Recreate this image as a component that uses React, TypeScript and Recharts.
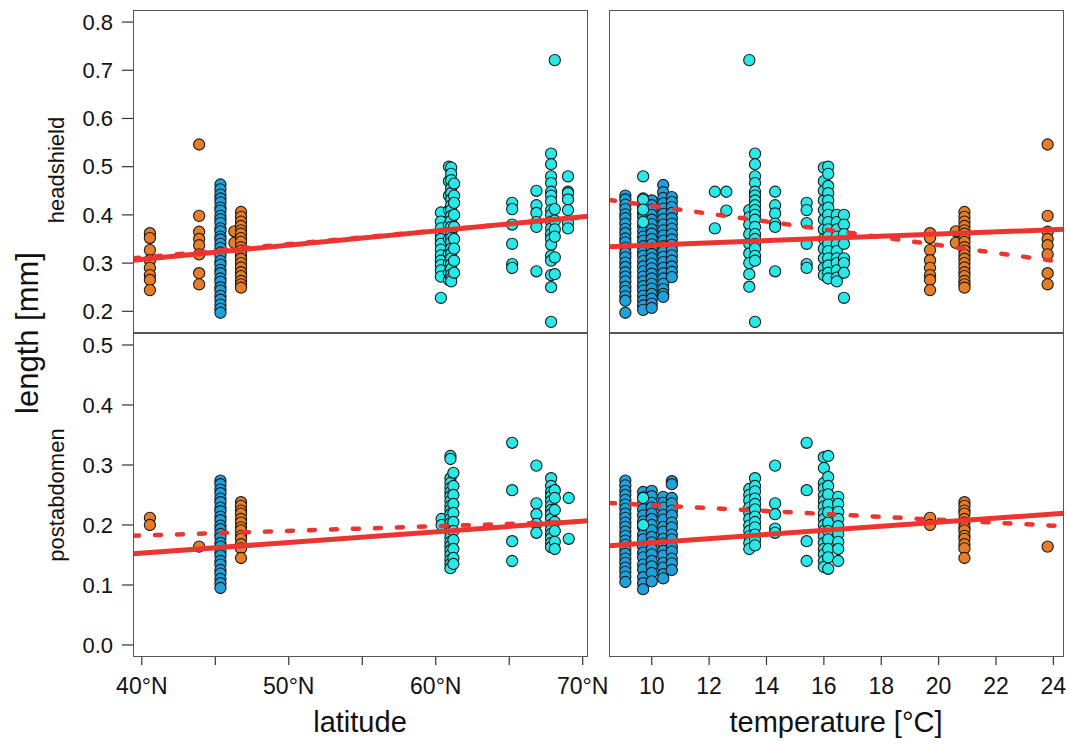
import { ScatterChart, Scatter, XAxis, YAxis } from "recharts";

const W = 1071;
const H = 747;
const FONT = "'Liberation Sans', Arial, Helvetica, sans-serif";

const ORANGE = "#e87d28";
const BLUE = "#1ea2dd";
const CYAN = "#2ae8e8";
const RED = "#ec3431";

type Column = [number, number[]];

// axis ticks
const latTicks = [40, 45, 50, 55, 60, 65, 70];
const tempTicks = [10, 12, 14, 16, 18, 20, 22, 24];
const headTicks = [0.2, 0.3, 0.4, 0.5, 0.6, 0.7, 0.8];
const postTicks = [0, 0.1, 0.2, 0.3, 0.4, 0.5];

// headshield vs latitude
const latHeadOrange: Column[] = [
  [40.55, [0.362, 0.352, 0.327, 0.306, 0.29, 0.275, 0.265, 0.244]],
  [43.9, [0.546, 0.398, 0.365, 0.35, 0.337, 0.318, 0.279, 0.256]],
  [46.3, [0.366, 0.342]],
  [46.75, [0.406, 0.396, 0.386, 0.377, 0.368, 0.361, 0.352, 0.344, 0.333, 0.326, 0.317, 0.309, 0.3, 0.291, 0.281, 0.273, 0.263, 0.256, 0.249]],
];
const latHeadBlue: Column[] = [
  [45.35, [0.463, 0.453, 0.442, 0.434, 0.426, 0.415, 0.409, 0.398, 0.391, 0.383, 0.372, 0.366, 0.355, 0.349, 0.34, 0.331, 0.322, 0.315, 0.304, 0.297, 0.286, 0.279, 0.268, 0.261, 0.25, 0.243, 0.232, 0.224, 0.214, 0.205, 0.197]],
];
const latHeadCyan: Column[] = [
  [60.35, [0.405, 0.386, 0.372, 0.36, 0.35, 0.34, 0.328, 0.316, 0.305, 0.296, 0.285, 0.272, 0.228]],
  [60.9, [0.5, 0.47, 0.44, 0.41, 0.38, 0.35, 0.32, 0.3, 0.28, 0.265]],
  [61.05, [0.498, 0.485, 0.472, 0.455, 0.445, 0.432, 0.42, 0.41, 0.398, 0.388, 0.375, 0.364, 0.352, 0.343, 0.33, 0.32, 0.31, 0.298, 0.288, 0.276, 0.268, 0.262]],
  [61.25, [0.465, 0.44, 0.425, 0.4, 0.375, 0.35, 0.33, 0.305, 0.28]],
  [65.2, [0.425, 0.412, 0.38, 0.34, 0.298, 0.29]],
  [66.85, [0.45, 0.42, 0.404, 0.385, 0.375, 0.283]],
  [67.85, [0.527, 0.505, 0.48, 0.466, 0.448, 0.44, 0.428, 0.41, 0.4, 0.386, 0.372, 0.36, 0.35, 0.338, 0.315, 0.305, 0.275, 0.25, 0.178]],
  [68.1, [0.721, 0.412, 0.388, 0.37, 0.355, 0.312, 0.277]],
  [69.0, [0.48, 0.448, 0.445, 0.432, 0.41, 0.384, 0.372]],
];

// headshield vs temperature
const tempHeadBlue: Column[] = [
  [9.08, [0.44, 0.432, 0.421, 0.412, 0.401, 0.393, 0.382, 0.371, 0.362, 0.351, 0.343, 0.332, 0.321, 0.312, 0.301, 0.292, 0.281, 0.272, 0.262, 0.251, 0.242, 0.231, 0.222, 0.197]],
  [9.7, [0.434, 0.425, 0.415, 0.404, 0.396, 0.377, 0.366, 0.355, 0.346, 0.335, 0.324, 0.315, 0.304, 0.293, 0.283, 0.272, 0.262, 0.252, 0.243, 0.232, 0.222, 0.212, 0.203]],
  [10.0, [0.43, 0.42, 0.411, 0.4, 0.39, 0.381, 0.37, 0.361, 0.35, 0.339, 0.33, 0.319, 0.31, 0.299, 0.289, 0.278, 0.268, 0.257, 0.247, 0.236, 0.226, 0.216, 0.207]],
  [10.4, [0.462, 0.447, 0.435, 0.424, 0.413, 0.402, 0.391, 0.38, 0.368, 0.357, 0.346, 0.335, 0.324, 0.313, 0.302, 0.29, 0.279, 0.268, 0.257, 0.246, 0.236, 0.23]],
  [10.7, [0.437, 0.427, 0.416, 0.404, 0.393, 0.382, 0.371, 0.36, 0.349, 0.338, 0.327, 0.316, 0.305, 0.293, 0.282, 0.271]],
];
const tempHeadCyan: Column[] = [
  [9.7, [0.48, 0.432, 0.411, 0.385]],
  [12.2, [0.448, 0.372]],
  [12.6, [0.448, 0.409]],
  [13.4, [0.721, 0.41, 0.395, 0.38, 0.36, 0.34, 0.32, 0.3, 0.277, 0.251]],
  [13.6, [0.527, 0.505, 0.48, 0.466, 0.448, 0.44, 0.43, 0.42, 0.41, 0.4, 0.39, 0.375, 0.36, 0.35, 0.34, 0.33, 0.315, 0.305, 0.178]],
  [14.3, [0.448, 0.42, 0.403, 0.382, 0.375, 0.283]],
  [15.4, [0.425, 0.41, 0.383, 0.34, 0.298, 0.29]],
  [16.0, [0.498, 0.47, 0.45, 0.43, 0.41, 0.39, 0.37, 0.35, 0.33, 0.31, 0.29, 0.275]],
  [16.15, [0.5, 0.485, 0.46, 0.445, 0.43, 0.415, 0.4, 0.385, 0.37, 0.355, 0.34, 0.325, 0.31, 0.295, 0.28, 0.268]],
  [16.45, [0.4, 0.385, 0.37, 0.355, 0.34, 0.325, 0.31, 0.3, 0.285, 0.27, 0.262]],
  [16.7, [0.4, 0.38, 0.36, 0.34, 0.31, 0.3, 0.28, 0.228]],
];
const tempHeadOrange: Column[] = [
  [19.7, [0.362, 0.352, 0.327, 0.306, 0.29, 0.275, 0.265, 0.244]],
  [20.6, [0.366, 0.342]],
  [20.9, [0.406, 0.396, 0.386, 0.377, 0.368, 0.361, 0.352, 0.344, 0.333, 0.326, 0.317, 0.309, 0.3, 0.291, 0.281, 0.273, 0.263, 0.256, 0.249]],
  [23.8, [0.546, 0.398, 0.365, 0.35, 0.337, 0.318, 0.279, 0.256]],
];

// postabdomen vs latitude
const latPostOrange: Column[] = [
  [40.55, [0.212, 0.2]],
  [43.9, [0.164]],
  [46.75, [0.238, 0.232, 0.224, 0.219, 0.21, 0.204, 0.196, 0.191, 0.182, 0.177, 0.168, 0.161, 0.145]],
];
const latPostBlue: Column[] = [
  [45.35, [0.274, 0.268, 0.259, 0.253, 0.244, 0.238, 0.229, 0.223, 0.214, 0.208, 0.199, 0.193, 0.185, 0.179, 0.17, 0.164, 0.155, 0.149, 0.14, 0.134, 0.125, 0.119, 0.11, 0.103, 0.095]],
];
const latPostCyan: Column[] = [
  [60.4, [0.21, 0.2]],
  [61.0, [0.315, 0.31, 0.278, 0.27, 0.262, 0.255, 0.248, 0.24, 0.232, 0.225, 0.218, 0.21, 0.203, 0.196, 0.188, 0.18, 0.172, 0.165, 0.158, 0.15, 0.142, 0.135, 0.128]],
  [61.2, [0.287, 0.265, 0.25, 0.235, 0.22, 0.205, 0.19, 0.175, 0.16, 0.145, 0.135]],
  [65.2, [0.337, 0.258, 0.173, 0.14]],
  [66.85, [0.299, 0.236, 0.218, 0.202, 0.187]],
  [67.85, [0.278, 0.265, 0.255, 0.248, 0.24, 0.232, 0.225, 0.218, 0.21, 0.2, 0.192, 0.185, 0.178, 0.17, 0.163]],
  [68.1, [0.258, 0.245, 0.225, 0.205, 0.19, 0.172, 0.16]],
  [69.05, [0.245, 0.177]],
];

// postabdomen vs temperature
const tempPostBlue: Column[] = [
  [9.08, [0.274, 0.266, 0.257, 0.25, 0.242, 0.234, 0.227, 0.219, 0.212, 0.204, 0.197, 0.189, 0.182, 0.174, 0.167, 0.159, 0.152, 0.144, 0.137, 0.129, 0.122, 0.114, 0.105]],
  [9.7, [0.255, 0.246, 0.236, 0.226, 0.216, 0.206, 0.196, 0.184, 0.176, 0.164, 0.154, 0.146, 0.134, 0.126, 0.113, 0.103, 0.093]],
  [10.0, [0.257, 0.248, 0.237, 0.229, 0.219, 0.21, 0.2, 0.191, 0.18, 0.171, 0.16, 0.151, 0.14, 0.131, 0.12, 0.106]],
  [10.4, [0.247, 0.237, 0.229, 0.217, 0.209, 0.197, 0.189, 0.177, 0.169, 0.157, 0.149, 0.137, 0.129, 0.118, 0.111]],
  [10.7, [0.273, 0.268, 0.245, 0.236, 0.224, 0.216, 0.204, 0.196, 0.184, 0.176, 0.164, 0.156, 0.144, 0.136, 0.125]],
];
const tempPostCyan: Column[] = [
  [9.7, [0.245, 0.2]],
  [13.4, [0.26, 0.25, 0.241, 0.229, 0.22, 0.21, 0.199, 0.19, 0.181, 0.17, 0.16]],
  [13.6, [0.278, 0.265, 0.256, 0.244, 0.235, 0.226, 0.214, 0.205, 0.196, 0.184, 0.175, 0.166]],
  [14.3, [0.299, 0.236, 0.218, 0.194, 0.187]],
  [15.4, [0.337, 0.258, 0.173, 0.14]],
  [16.0, [0.313, 0.295, 0.27, 0.261, 0.249, 0.24, 0.231, 0.219, 0.21, 0.2, 0.19, 0.181, 0.17, 0.16, 0.151, 0.14, 0.13]],
  [16.15, [0.315, 0.28, 0.265, 0.251, 0.234, 0.221, 0.204, 0.19, 0.176, 0.16, 0.146, 0.127]],
  [16.5, [0.247, 0.235, 0.222, 0.21, 0.198, 0.185, 0.172, 0.16, 0.14]],
];
const tempPostOrange: Column[] = [
  [19.7, [0.212, 0.2]],
  [20.9, [0.238, 0.232, 0.224, 0.219, 0.21, 0.204, 0.196, 0.191, 0.182, 0.177, 0.168, 0.161, 0.145]],
  [23.8, [0.164]],
];

// fitted lines (end points in data units)
const latHeadSolid = [{ x: 39.4, y: 0.306 }, { x: 70.36, y: 0.397 }];
const latHeadDashed = [{ x: 39.4, y: 0.31 }, { x: 70.36, y: 0.396 }];
const tempHeadSolid = [{ x: 8.51, y: 0.334 }, { x: 24.37, y: 0.37 }];
const tempHeadDashed = [{ x: 8.51, y: 0.431 }, { x: 24.1, y: 0.304 }];
const latPostSolid = [{ x: 39.4, y: 0.152 }, { x: 70.36, y: 0.207 }];
const latPostDashed = [{ x: 39.4, y: 0.182 }, { x: 70.36, y: 0.206 }];
const tempPostSolid = [{ x: 8.51, y: 0.1655 }, { x: 24.37, y: 0.2195 }];
const tempPostDashed = [{ x: 8.51, y: 0.2367 }, { x: 24.37, y: 0.198 }];

const toPoints = (cols: Column[]) => cols.flatMap(([x, ys]) => ys.map((y) => ({ x, y })));

const dot = (fill: string) => (p: any) => (
  <circle cx={p.cx} cy={p.cy} r={5.6} fill={fill} stroke="#1a1a1a" strokeWidth={1.1} />
);
const noDot = () => <g />;

interface Rect { x: number; y: number; w: number; h: number }

interface PanelProps {
  rect: Rect;
  xDomain: [number, number];
  xTicks: number[];
  xFmt: (v: number) => string;
  showX: boolean;
  yDomain: [number, number];
  yTicks: number[];
  showY: boolean;
  orange: Column[];
  blue: Column[];
  cyan: Column[];
  solid: { x: number; y: number }[];
  dashed: { x: number; y: number }[];
}

const XH = 60;

const Panel = (p: PanelProps) => {
  const { rect } = p;
  const margin = {
    top: rect.y,
    left: p.showY ? 0 : rect.x,
    right: W - rect.x - rect.w,
    bottom: H - rect.y - rect.h - (p.showX ? XH : 0),
  };
  return (
    <>
      <div style={{ position: "absolute", left: 0, top: 0 }}>
        <ScatterChart width={W} height={H} margin={margin}>
          <XAxis
            type="number"
            dataKey="x"
            domain={p.xDomain}
            allowDataOverflow
            ticks={p.xTicks}
            tickFormatter={p.xFmt}
            interval={0}
            hide={!p.showX}
            height={XH}
            axisLine={false}
            tickSize={8}
            tickMargin={13}
            tickLine={{ stroke: "#333", strokeWidth: 1.2 }}
            tick={{ fill: "#111", fontSize: 23, fontFamily: FONT }}
          />
          <YAxis
            type="number"
            dataKey="y"
            domain={p.yDomain}
            allowDataOverflow
            ticks={p.yTicks}
            tickFormatter={(v: number) => v.toFixed(1)}
            interval={0}
            hide={!p.showY}
            width={rect.x}
            axisLine={false}
            tickSize={11}
            tickMargin={9}
            tickLine={{ stroke: "#333", strokeWidth: 1.2 }}
            tick={{ fill: "#111", fontSize: 22, fontFamily: FONT }}
          />
          <Scatter data={toPoints(p.orange)} shape={dot(ORANGE)} isAnimationActive={false} />
          <Scatter data={toPoints(p.blue)} shape={dot(BLUE)} isAnimationActive={false} />
          <Scatter data={toPoints(p.cyan)} shape={dot(CYAN)} isAnimationActive={false} />
          <Scatter
            data={p.solid}
            shape={noDot}
            line={{ stroke: RED, strokeWidth: 5 }}
            isAnimationActive={false}
          />
          <Scatter
            data={p.dashed}
            shape={noDot}
            line={{ stroke: RED, strokeWidth: 4.5, strokeDasharray: "6 16", strokeLinecap: "round" }}
            isAnimationActive={false}
          />
        </ScatterChart>
      </div>
      <div
        style={{
          position: "absolute",
          left: rect.x,
          top: rect.y,
          width: rect.w,
          height: rect.h,
          border: "1.5px solid #555",
          boxSizing: "border-box",
          pointerEvents: "none",
        }}
      />
    </>
  );
};

const latFmt = (v: number) => (v % 10 === 0 ? `${v}°N` : "");
const tempFmt = (v: number) => `${v}`;

const textStyle = (x: number, y: number, size: number, rotate: boolean): React.CSSProperties => ({
  position: "absolute",
  left: x,
  top: y,
  transform: `translate(-50%, -50%)${rotate ? " rotate(-90deg)" : ""}`,
  fontFamily: FONT,
  fontSize: size,
  color: "#111",
  whiteSpace: "nowrap",
  lineHeight: 1,
});

const App = () => (
  <div style={{ position: "absolute", left: 0, top: 0, width: W, height: H, background: "#fff", overflow: "hidden" }}>
    <Panel
      rect={{ x: 133, y: 10, w: 455, h: 323 }}
      xDomain={[39.4, 70.36]} xTicks={latTicks} xFmt={latFmt} showX={false}
      yDomain={[0.155, 0.825]} yTicks={headTicks} showY
      orange={latHeadOrange} blue={latHeadBlue} cyan={latHeadCyan}
      solid={latHeadSolid} dashed={latHeadDashed}
    />
    <Panel
      rect={{ x: 609, y: 10, w: 455, h: 323 }}
      xDomain={[8.51, 24.37]} xTicks={tempTicks} xFmt={tempFmt} showX={false}
      yDomain={[0.155, 0.825]} yTicks={headTicks} showY={false}
      orange={tempHeadOrange} blue={tempHeadBlue} cyan={tempHeadCyan}
      solid={tempHeadSolid} dashed={tempHeadDashed}
    />
    <Panel
      rect={{ x: 133, y: 333, w: 455, h: 324 }}
      xDomain={[39.4, 70.36]} xTicks={latTicks} xFmt={latFmt} showX
      yDomain={[-0.02, 0.52]} yTicks={postTicks} showY
      orange={latPostOrange} blue={latPostBlue} cyan={latPostCyan}
      solid={latPostSolid} dashed={latPostDashed}
    />
    <Panel
      rect={{ x: 609, y: 333, w: 455, h: 324 }}
      xDomain={[8.51, 24.37]} xTicks={tempTicks} xFmt={tempFmt} showX
      yDomain={[-0.02, 0.52]} yTicks={postTicks} showY={false}
      orange={tempPostOrange} blue={tempPostBlue} cyan={tempPostCyan}
      solid={tempPostSolid} dashed={tempPostDashed}
    />
    <div style={textStyle(27, 333, 31, true)}>length [mm]</div>
    <div style={textStyle(57, 170, 22, true)}>headshield</div>
    <div style={textStyle(57, 495, 22, true)}>postabdomen</div>
    <div style={textStyle(360, 722, 29, false)}>latitude</div>
    <div style={textStyle(836, 722, 29, false)}>temperature [°C]</div>
  </div>
);

export default App;
